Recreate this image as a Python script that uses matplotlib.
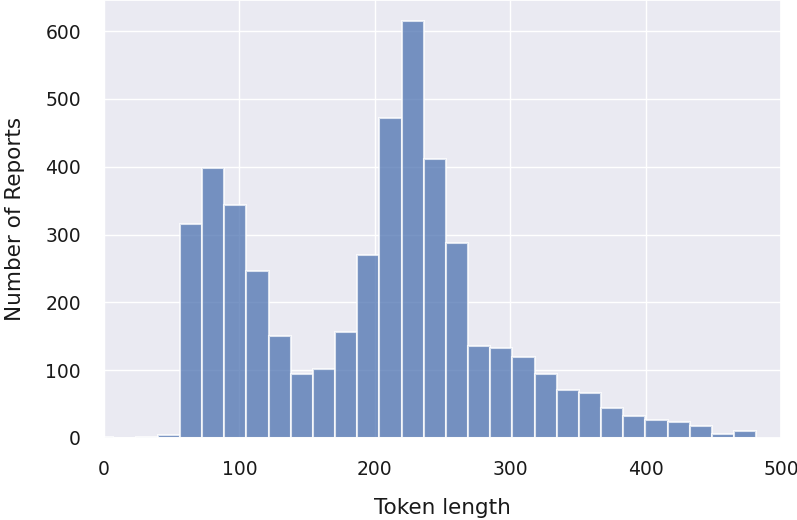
import numpy as np
import matplotlib
matplotlib.use('Agg')
import matplotlib.pyplot as plt
import seaborn as sns

### Histogram data ###

bin_start = -9.4
bin_width = 16.37
counts = [1, 0, 1, 5, 316, 398, 344, 246, 151, 95,
          102, 156, 270, 472, 615, 412, 288, 136, 132, 120,
          94, 71, 67, 44, 33, 26, 24, 18, 6, 11]
x_ticks = [0, 100, 200, 300, 400, 500]
y_ticks = [0, 100, 200, 300, 400, 500, 600]

edges = bin_start + bin_width * np.arange(len(counts) + 1)
centers = (edges[:-1] + edges[1:]) / 2

sns.set_theme(style='darkgrid')
plt.rcParams['font.family'] = ['DejaVu Sans']

fig = plt.figure(figsize=(7.97, 5.2), dpi=100)
ax = fig.add_axes([0.1305, 0.1577, 0.8495, 0.8423])
ax.hist(centers, bins=edges, weights=counts, color='#4c72b0', alpha=0.75,
        edgecolor='white', linewidth=1.5)

ax.set_xlim(0, 500)
ax.set_xticks(x_ticks)
ax.set_yticks(y_ticks)
ax.tick_params(labelsize=13.5, colors='#1a1a1a')
ax.tick_params(axis='x', pad=9.5)
ax.tick_params(axis='y', pad=10.5)
ax.set_xlabel('Token length', fontsize=15.5, labelpad=14, color='#1a1a1a')
ax.set_ylabel('Number of Reports', fontsize=15.5, labelpad=15, color='#1a1a1a')

fig.savefig('out.png', dpi=100)
plt.close(fig)
